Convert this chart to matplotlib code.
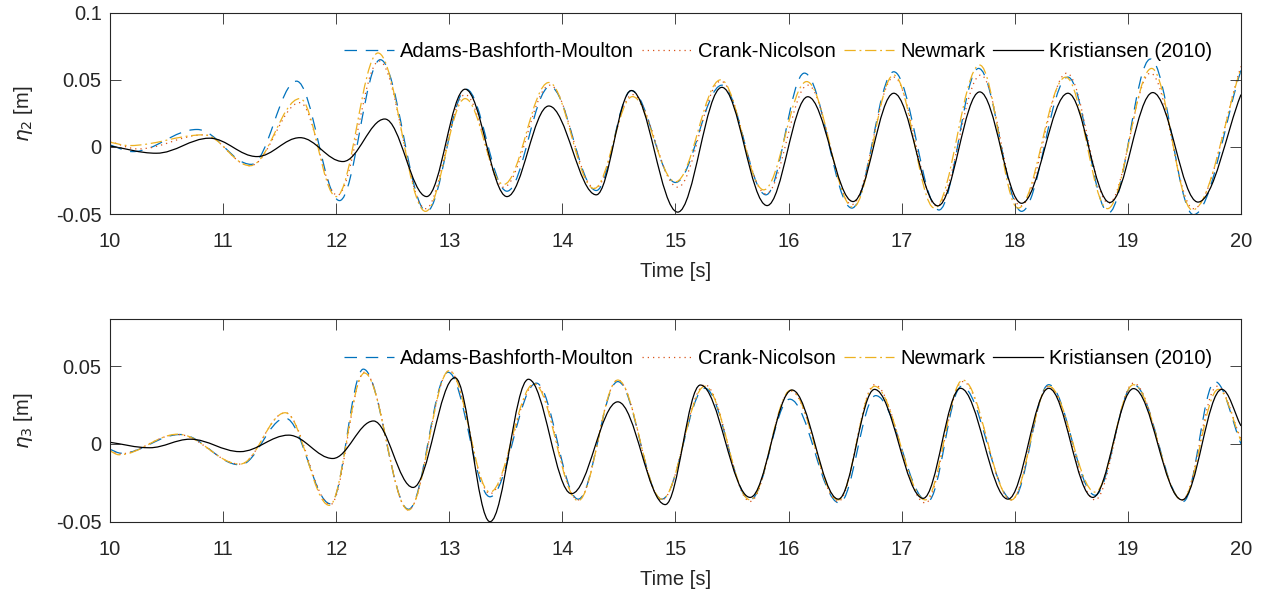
import matplotlib
matplotlib.use("Agg")
import matplotlib.pyplot as plt
from matplotlib.path import Path
from matplotlib.patches import PathPatch
from matplotlib.lines import Line2D

plt.rcParams['font.family'] = ['Liberation Sans', 'DejaVu Sans']
plt.rcParams['mathtext.fontset'] = 'dejavusans'

# ---------------- data (extrema of each curve) ----------------
series_names = ['Adams-Bashforth-Moulton', 'Crank-Nicolson', 'Newmark', 'Kristiansen (2010)']

# eta_2 (top panel)
eta2_abm_t = [10.00, 10.20, 10.77, 11.25, 11.65, 12.03, 12.39, 12.80, 13.15, 13.51, 13.89, 14.30, 14.61,
              15.00, 15.41, 15.80, 16.14, 16.56, 16.93, 17.33, 17.68, 18.06, 18.47, 18.83, 19.20, 19.58, 20.00]
eta2_abm_v = [0.0015, -0.0035, 0.0130, -0.0130, 0.0490, -0.0400, 0.0650, -0.0480, 0.0430, -0.0330, 0.0450,
              -0.0325, 0.0420, -0.0265, 0.0460, -0.0357, 0.0550, -0.0456, 0.0560, -0.0470, 0.0585, -0.0480,
              0.0520, -0.0490, 0.0655, -0.0505, 0.0570]

eta2_cn_t = [10.00, 10.25, 10.83, 11.24, 11.68, 12.01, 12.38, 12.79, 13.14, 13.48, 13.89, 14.29, 14.62,
             15.02, 15.40, 15.80, 16.17, 16.56, 16.93, 17.31, 17.70, 18.05, 18.46, 18.83, 19.20, 19.58, 20.00]
eta2_cn_v = [0.0040, -0.0015, 0.0090, -0.0140, 0.0330, -0.0360, 0.0640, -0.0460, 0.0390, -0.0300, 0.0460,
             -0.0310, 0.0390, -0.0300, 0.0490, -0.0350, 0.0460, -0.0430, 0.0520, -0.0440, 0.0536, -0.0440,
             0.0550, -0.0420, 0.0550, -0.0460, 0.0600]

eta2_nm_t = [10.00, 10.17, 10.83, 11.24, 11.68, 12.00, 12.37, 12.79, 13.14, 13.48, 13.88, 14.28, 14.62,
             15.00, 15.40, 15.78, 16.16, 16.57, 16.93, 17.29, 17.69, 18.03, 18.45, 18.82, 19.21, 19.57, 20.00]
eta2_nm_v = [0.0035, 0.0010, 0.0090, -0.0140, 0.0360, -0.0370, 0.0700, -0.0480, 0.0360, -0.0280, 0.0480,
             -0.0310, 0.0375, -0.0260, 0.0500, -0.0320, 0.0487, -0.0450, 0.0536, -0.0456, 0.0610, -0.0456,
             0.0520, -0.0460, 0.0585, -0.0470, 0.0585]

eta2_kr_t = [10.00, 10.41, 10.88, 11.30, 11.68, 12.06, 12.43, 12.80, 13.14, 13.51, 13.88, 14.30, 14.61,
             15.02, 15.41, 15.81, 16.17, 16.57, 16.93, 17.32, 17.69, 18.06, 18.47, 18.84, 19.22, 19.62, 20.00]
eta2_kr_v = [0.0007, -0.0047, 0.0065, -0.0072, 0.0069, -0.0109, 0.0208, -0.0370, 0.0430, -0.0370, 0.0305,
             -0.0357, 0.0420, -0.0486, 0.0444, -0.0437, 0.0374, -0.0407, 0.0400, -0.0439, 0.0410, -0.0420,
             0.0400, -0.0414, 0.0405, -0.0411, 0.0390]

# eta_3 (bottom panel)
eta3_abm_t = [10.00, 10.10, 10.62, 11.15, 11.55, 11.95, 12.24, 12.64, 12.99, 13.36, 13.77, 14.14, 14.49, 14.88,
              15.26, 15.66, 16.01, 16.45, 16.77, 17.23, 17.53, 17.98, 18.30, 18.71, 19.05, 19.49, 19.77, 20.00]
eta3_abm_v = [-0.0035, -0.0060, 0.0060, -0.0135, 0.0165, -0.0385, 0.0480, -0.0420, 0.0460, -0.0340, 0.0390,
              -0.0355, 0.0400, -0.0355, 0.0357, -0.0360, 0.0287, -0.0380, 0.0310, -0.0370, 0.0370, -0.0360,
              0.0380, -0.0330, 0.0380, -0.0370, 0.0400, 0.0000]

eta3_cn_t = [10.00, 10.08, 10.60, 11.15, 11.55, 11.95, 12.25, 12.64, 13.00, 13.36, 13.76, 14.14, 14.49, 14.88,
             15.26, 15.66, 16.02, 16.44, 16.76, 17.21, 17.54, 17.97, 18.30, 18.71, 19.05, 19.48, 19.79, 20.00]
eta3_cn_v = [-0.0040, -0.0065, 0.0060, -0.0130, 0.0200, -0.0390, 0.0460, -0.0425, 0.0470, -0.0320, 0.0385,
             -0.0360, 0.0410, -0.0360, 0.0380, -0.0370, 0.0340, -0.0370, 0.0380, -0.0380, 0.0400, -0.0360,
             0.0370, -0.0360, 0.0390, -0.0360, 0.0370, 0.0030]

eta3_nm_t = [10.00, 10.08, 10.60, 11.15, 11.55, 11.94, 12.25, 12.64, 13.00, 13.36, 13.75, 14.14, 14.49, 14.88,
             15.26, 15.66, 16.02, 16.44, 16.76, 17.21, 17.54, 17.97, 18.30, 18.71, 19.05, 19.48, 19.80, 20.00]
eta3_nm_v = [-0.0045, -0.0070, 0.0062, -0.0130, 0.0200, -0.0395, 0.0455, -0.0425, 0.0470, -0.0310, 0.0385,
             -0.0365, 0.0410, -0.0355, 0.0370, -0.0360, 0.0345, -0.0360, 0.0370, -0.0360, 0.0410, -0.0360,
             0.0370, -0.0310, 0.0380, -0.0360, 0.0350, 0.0020]

eta3_kr_t = [10.00, 10.35, 10.71, 11.15, 11.58, 11.97, 12.33, 12.68, 13.05, 13.36, 13.70, 14.08, 14.49, 14.91,
             15.22, 15.66, 16.03, 16.44, 16.76, 17.19, 17.52, 17.94, 18.30, 18.69, 19.05, 19.48, 19.83, 20.00]
eta3_kr_v = [0.0010, -0.0025, 0.0030, -0.0050, 0.0056, -0.0094, 0.0147, -0.0280, 0.0425, -0.0500, 0.0415,
             -0.0320, 0.0270, -0.0390, 0.0378, -0.0344, 0.0346, -0.0355, 0.0350, -0.0350, 0.0357, -0.0355,
             0.0357, -0.0344, 0.0355, -0.0360, 0.0350, 0.0115]

x_ticks = [10, 11, 12, 13, 14, 15, 16, 17, 18, 19, 20]
x_tick_labels = ['10', '11', '12', '13', '14', '15', '16', '17', '18', '19', '20']
eta2_yticks = [-0.05, 0, 0.05, 0.1]
eta2_ytick_labels = ['-0.05', '0', '0.05', '0.1']
eta3_yticks = [-0.05, 0, 0.05]
eta3_ytick_labels = ['-0.05', '0', '0.05']

# ---------------- styles ----------------
colors = ['#0072BD', '#D95319', '#EDB120', '#000000']
styles = [(0, (10, 7)), (0, (1, 3.2)), (0, (9, 3, 1.5, 3)), '-']
LW = 0.9
FS = 14.5
AXC = '#262626'


def smooth_path(t, v, k=0.364):
    """Smooth Bezier path through the read extrema (horizontal tangents at extrema)."""
    verts = [(t[0], v[0])]
    codes = [Path.MOVETO]
    n = len(t)
    for i in range(n - 1):
        dt = t[i + 1] - t[i]
        if i == 0:
            c1 = (t[i] + dt / 3, v[i] + (v[i + 1] - v[i]) / 3)
        else:
            c1 = (t[i] + k * dt, v[i])
        if i + 1 == n - 1:
            c2 = (t[i + 1] - dt / 3, v[i + 1] - (v[i + 1] - v[i]) / 3)
        else:
            c2 = (t[i + 1] - k * dt, v[i + 1])
        verts += [c1, c2, (t[i + 1], v[i + 1])]
        codes += [Path.CURVE4] * 3
    return Path(verts, codes)


fig = plt.figure(figsize=(12.64, 6.0), dpi=100)
ax1 = fig.add_axes([0.0870, 0.6433, 0.8948, 0.3355])
ax2 = fig.add_axes([0.0870, 0.1305, 0.8948, 0.3373])

panels = [
    (ax1, [(eta2_abm_t, eta2_abm_v), (eta2_cn_t, eta2_cn_v), (eta2_nm_t, eta2_nm_v), (eta2_kr_t, eta2_kr_v)],
     (-0.05, 0.1), eta2_yticks, eta2_ytick_labels, r'$\eta_2$ [m]'),
    (ax2, [(eta3_abm_t, eta3_abm_v), (eta3_cn_t, eta3_cn_v), (eta3_nm_t, eta3_nm_v), (eta3_kr_t, eta3_kr_v)],
     (-0.05, 0.08), eta3_yticks, eta3_ytick_labels, r'$\eta_3$ [m]'),
]

for ax, data, ylim, yt, ytl, ylab in panels:
    for (t, v), c, ls in zip(data, colors, styles):
        patch = PathPatch(smooth_path(t, v), fill=False, edgecolor=c, linewidth=LW, linestyle=ls)
        ax.add_patch(patch)
    ax.set_xlim(10, 20)
    ax.set_ylim(*ylim)
    ax.set_xticks(x_ticks)
    ax.set_xticklabels(x_tick_labels)
    ax.set_yticks(yt)
    ax.set_yticklabels(ytl)
    ax.tick_params(direction='in', length=8, width=0.6, top=True, right=True,
                   colors=AXC, labelcolor=AXC, labelsize=FS)
    ax.tick_params(axis='x', pad=13)
    ax.tick_params(axis='y', pad=6)
    for sp in ax.spines.values():
        sp.set_color(AXC)
        sp.set_linewidth(0.8)
    ax.set_xlabel('Time [s]', fontsize=FS, color=AXC, labelpad=8)
    ax.set_ylabel(ylab, fontsize=FS, color=AXC, labelpad=15)
    handles = [Line2D([], [], color=c, lw=LW, linestyle=ls) for c, ls in zip(colors, styles)]
    ax.legend(handles, series_names, ncol=4, loc='center right', bbox_to_anchor=(0.989, 0.805),
              frameon=False, fontsize=FS, handlelength=2.49, handletextpad=0.3, columnspacing=0.4,
              borderpad=0.3)

fig.savefig('out.png', dpi=100)
